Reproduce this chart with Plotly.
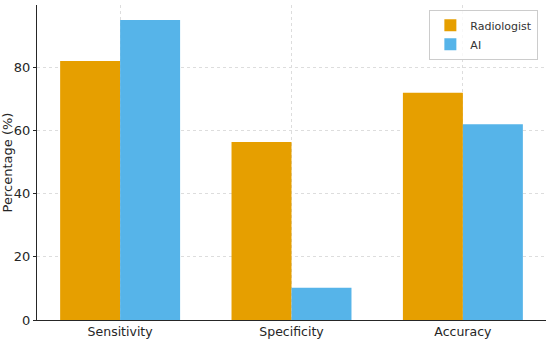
import plotly.graph_objects as go

categories = ["Sensitivity", "Specificity", "Accuracy"]
radiologist = [82, 56.4, 72]
ai = [95, 10.2, 62]
y_ticks = [0, 20, 40, 60, 80]

fig = go.Figure()
fig.add_trace(go.Bar(name="Radiologist", x=categories, y=radiologist,
                     marker=dict(color="#E69F00", line=dict(width=0))))
fig.add_trace(go.Bar(name="AI", x=categories, y=ai,
                     marker=dict(color="#56B4E9", line=dict(width=0))))

font_family = "DejaVu Sans"
fig.update_layout(
    width=550, height=340,
    barmode="group", bargap=0.3, bargroupgap=0,
    margin=dict(l=37, r=4, t=5, b=20, autoexpand=False),
    plot_bgcolor="white", paper_bgcolor="white",
    font=dict(family=font_family, size=13, color="#262626"),
    showlegend=True,
    legend=dict(x=0.985, y=0.985, xanchor="right", yanchor="top",
                bgcolor="rgba(255,255,255,0.8)", bordercolor="#cccccc", borderwidth=1,
                font=dict(size=11, color="#333333"), tracegroupgap=0,
                itemwidth=30),
    xaxis=dict(range=[-0.485, 2.485], showgrid=True, gridcolor="#dddddd", griddash="dot",
               gridwidth=1, showline=True, linecolor="#262626", linewidth=1,
               ticks="", zeroline=False,
               automargin=False, tickfont=dict(size=12.5)),
    yaxis=dict(range=[0, 99.75], tickvals=y_ticks, showgrid=True, gridcolor="#dddddd",
               griddash="dot", gridwidth=1, showline=True, linecolor="#262626", linewidth=1,
               ticks="outside", ticklen=3, tickcolor="#262626", zeroline=False,
               automargin=False,
               title=dict(text="Percentage (%)", standoff=4, font=dict(size=13))),
)

fig.write_html("out.html", config={"displayModeBar": False},
               post_script="document.body.style.margin='0';")
